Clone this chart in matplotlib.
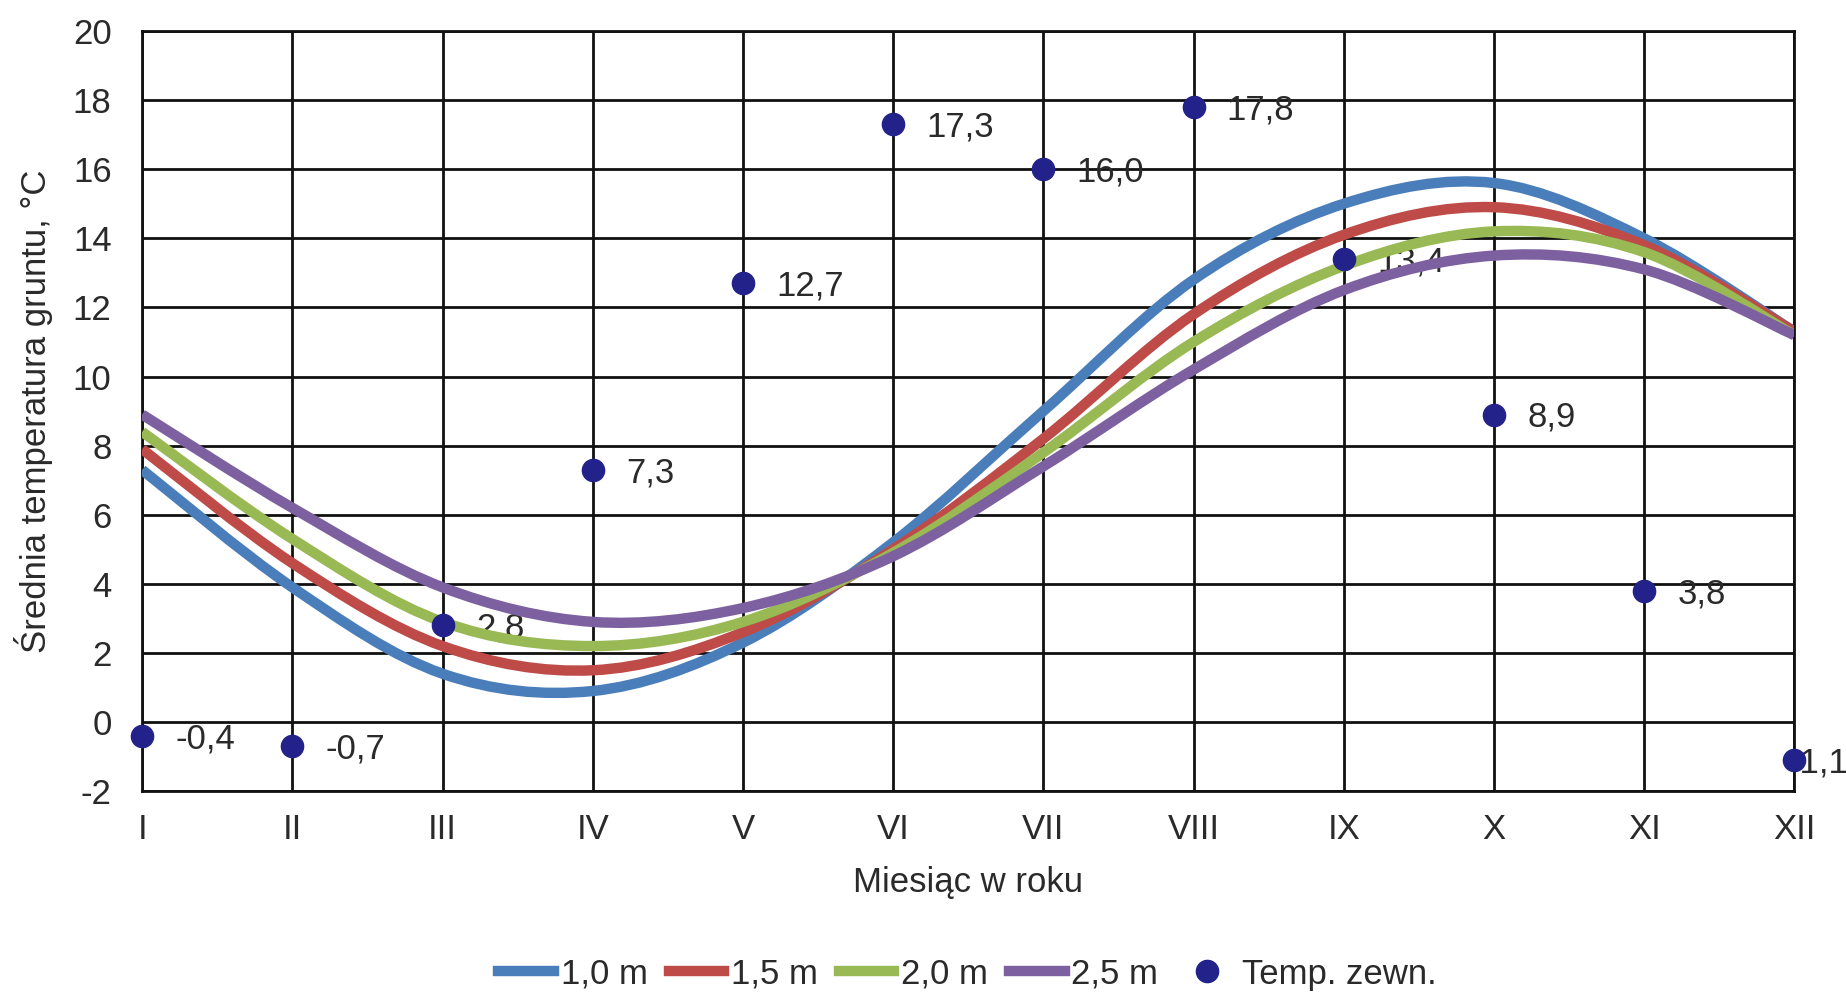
import matplotlib
matplotlib.use("Agg")
import matplotlib.pyplot as plt
import numpy as np
from matplotlib.path import Path
from matplotlib.patches import PathPatch
from matplotlib.lines import Line2D

plt.rcParams["font.family"] = ["Liberation Sans", "DejaVu Sans"]
plt.rcParams["axes.unicode_minus"] = False

MONTHS = ["I", "II", "III", "IV", "V", "VI", "VII", "VIII", "IX", "X", "XI", "XII"]
DEPTH_LABELS = ["1,0 m", "1,5 m", "2,0 m", "2,5 m"]
T_10 = [7.3, 3.9, 1.4, 0.9, 2.3, 5.2, 9.0, 12.8, 15.0, 15.6, 14.0, 11.3]
T_15 = [7.9, 4.6, 2.2, 1.5, 2.6, 5.0, 8.2, 11.8, 14.1, 14.9, 13.8, 11.3]
T_20 = [8.4, 5.3, 2.9, 2.2, 2.9, 4.9, 7.8, 11.0, 13.2, 14.2, 13.6, 11.2]
T_25 = [8.9, 6.2, 3.9, 2.9, 3.3, 4.8, 7.4, 10.2, 12.5, 13.5, 13.1, 11.2]
T_OUT = [-0.4, -0.7, 2.8, 7.3, 12.7, 17.3, 16.0, 17.8, 13.4, 8.9, 3.8, -1.1]
OUT_LABEL = "Temp. zewn."

COLORS = ["#4a7ebb", "#be4b48", "#98b954", "#7d60a0"]
DOT_COLOR = "#22228a"
TEXT = "#2a2a2a"


def smooth_path(xs, ys):
    # Catmull-Rom -> cubic Bezier, like a spreadsheet "smoothed line"
    pts = np.column_stack([xs, ys]).astype(float)
    ext = np.vstack([pts[0], pts, pts[-1]])
    verts = [pts[0]]
    codes = [Path.MOVETO]
    for i in range(1, len(ext) - 2):
        p0, p1, p2, p3 = ext[i - 1], ext[i], ext[i + 1], ext[i + 2]
        verts += [p1 + (p2 - p0) / 6, p2 - (p3 - p1) / 6, p2]
        codes += [Path.CURVE4] * 3
    return Path(verts, codes)


fig = plt.figure(figsize=(18.46, 9.99), dpi=100)
ax = fig.add_axes([0.077, 0.208, 0.895, 0.761])
x = np.arange(len(MONTHS))

for series, color in zip([T_10, T_15, T_20, T_25], COLORS):
    patch = PathPatch(smooth_path(x, series), facecolor="none", edgecolor=color,
                      lw=7.5, capstyle="butt", joinstyle="round", zorder=4)
    ax.add_patch(patch)

ax.plot(x, T_OUT, "o", color=DOT_COLOR, markersize=16, zorder=6, clip_on=False)
for i, v in enumerate(T_OUT):
    label = f"{v:.1f}".replace(".", ",")
    dx = 24 if i < len(T_OUT) - 1 else -4
    ax.annotate(label, (x[i], v), xytext=(dx, -2), textcoords="offset points",
                fontsize=25, color=TEXT, va="center", ha="left",
                zorder=3, annotation_clip=False)

ax.set_xlim(0, 11)
ax.set_ylim(-2, 20)
ax.set_xticks(x)
ax.set_xticklabels(MONTHS)
ax.set_yticks(np.arange(-2, 21, 2))
ax.grid(True, color="#111111", lw=2)
ax.set_axisbelow(True)
for s in ax.spines.values():
    s.set_color("#111111")
    s.set_linewidth(2)
ax.tick_params(length=0, labelsize=25, colors=TEXT, pad=16)
ax.tick_params(axis="y", pad=22)
ax.set_xlabel("Miesiąc w roku", fontsize=25, color=TEXT, labelpad=14)
ax.set_ylabel("Średnia temperatura gruntu, °C", fontsize=25, color=TEXT, labelpad=14)

handles = [Line2D([], [], color=c, lw=7.5) for c in COLORS]
handles.append(Line2D([], [], ls="none", marker="o", color=DOT_COLOR, markersize=16))
fig.legend(handles, DEPTH_LABELS + [OUT_LABEL], loc="center", ncol=5,
           bbox_to_anchor=(0.524, 0.025), frameon=False, fontsize=25,
           handlelength=1.6, handletextpad=0.2, columnspacing=0.6,
           labelcolor=TEXT)

fig.savefig("out.png", dpi=100)
